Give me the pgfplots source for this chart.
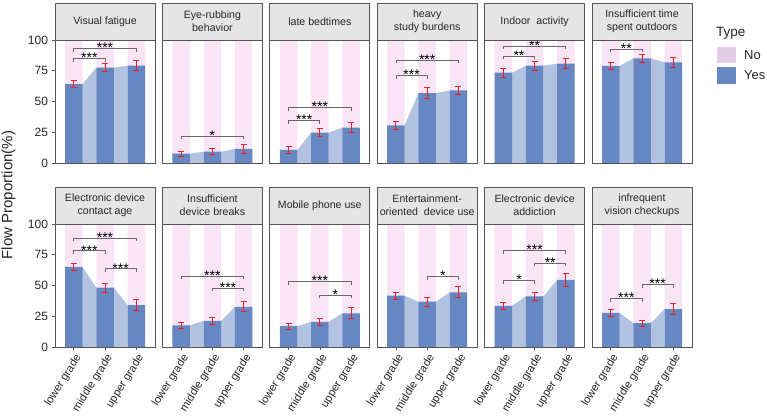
\documentclass[border=0pt]{standalone}
\usepackage{fontspec}
\setmainfont{Liberation Sans}
\usepackage{pgfplots}
\pgfplotsset{compat=1.18}

\definecolor{pinkbg}{RGB}{250,229,247}
\definecolor{flowblue}{RGB}{178,195,226}
\definecolor{barblue}{RGB}{103,135,195}
\definecolor{errred}{RGB}{238,32,40}
\definecolor{stripgray}{RGB}{229,229,229}
\definecolor{framegray}{RGB}{85,85,85}
\definecolor{brgray}{RGB}{105,105,105}
\definecolor{legno}{RGB}{226,206,228}

\pgfplotsset{
  panelstyle/.style={
    scale only axis, width=100pt, height=123pt,
    xmin=-0.6, xmax=2.6, ymin=0, ymax=100,
    clip=false, axis on top,
    axis line style={framegray, line width=0.8pt},
    tick style={framegray, line width=0.6pt},
    major tick length=3.5pt, tick align=outside,
    xtick=\empty, ytick=\empty,
    ticklabel style={font=\fontsize{12}{12}\selectfont, text=black!85},
    /pgf/number format/assume math mode=true,
  },
  leftpanel/.style={ytick={0,25,50,75,100}, ytick pos=left},
  bottompanel/.style={xtick={0,1,2}, xticklabels={lower grade,middle grade,upper grade}, xtick pos=left,
    x tick label style={rotate=58, anchor=north east, inner sep=1.5pt, font=\fontsize{11.2}{11.2}\selectfont}},
  errstyle/.style={forget plot, draw=none, mark=none,
    error bars/.cd, y dir=both, y explicit,
    error bar style={draw=errred, line width=1pt},
    error mark options={draw=errred, rotate=90, mark size=3pt, line width=1pt}},
}

% bracket: i, j, height, mid, stars
\newcommand{\br}[5]{%
  \pgfmathsetmacro\brlow{#3-2.5}%
  \addplot[brgray, line width=0.8pt, forget plot] coordinates {(#1,\brlow) (#1,#3) (#2,#3) (#2,\brlow)};
  \node[anchor=base, yshift=-4.2pt, inner sep=0pt, font=\fontsize{14}{14}\selectfont] at (axis cs:#4,#3) {#5};
}

% panel: x, y, opts, title, v1, v2, v3, error coords, brackets
\newcommand{\panel}[9]{%
\begin{axis}[at={(#1,#2)}, anchor=south west, panelstyle, #3]
  \addplot[ybar, bar width=0.56, bar shift=0pt, fill=pinkbg, draw=none] coordinates {(0,100) (1,100) (2,100)};
  \addplot[fill=flowblue, draw=none] coordinates {(0.28,#5) (0.72,#6)} \closedcycle;
  \addplot[fill=flowblue, draw=none] coordinates {(1.28,#6) (1.72,#7)} \closedcycle;
  \addplot[ybar, bar width=0.56, bar shift=0pt, fill=barblue, draw=none] coordinates {(0,#5) (1,#6) (2,#7)};
  \addplot[errstyle] coordinates {#8};
  #9
  \draw[fill=stripgray, draw=framegray, line width=0.8pt] (rel axis cs:0,1) rectangle ([yshift=37pt]rel axis cs:1,1);
  \node[align=center, font=\fontsize{10.6}{12.7}\selectfont, text=black!85] at ([yshift=18.5pt]rel axis cs:0.5,1) {#4};
\end{axis}}

\begin{document}
\begin{tikzpicture}
\useasboundingbox (0,0) rectangle (767pt,419pt);

% Row 1
\panel{55pt}{256pt}{leftpanel}{Visual fatigue}{64.2}{77.5}{79.1}
  {(0,64.2) +- (0,3) (1,77.5) +- (0,3.3) (2,79.1) +- (0,4)}
  {\br{0}{1}{85}{0.5}{***}\br{0}{2}{93}{1}{***}}
\panel{162.4pt}{256pt}{}{Eye-rubbing\\behavior}{7.6}{9.2}{11.4}
  {(0,7.6) +- (0,2) (1,9.2) +- (0,2.3) (2,11.4) +- (0,3.3)}
  {\br{0}{2}{22}{1}{*}}
\panel{269.8pt}{256pt}{}{late bedtimes}{10.6}{24.6}{28.7}
  {(0,10.6) +- (0,2.5) (1,24.6) +- (0,3.3) (2,28.7) +- (0,4.2)}
  {\br{0}{1}{34.4}{0.5}{***}\br{0}{2}{45}{1}{***}}
\panel{377.2pt}{256pt}{}{heavy\\study burdens}{30.6}{56.9}{59}
  {(0,30.6) +- (0,3.4) (1,56.9) +- (0,4.6) (2,59) +- (0,3.4)}
  {\br{0}{1}{71}{0.5}{***}\br{0}{2}{83.5}{1}{***}}
\panel{484.6pt}{256pt}{}{Indoor\ \ activity}{73.4}{79.1}{80.7}
  {(0,73.4) +- (0,3.5) (1,79.1) +- (0,3.5) (2,80.7) +- (0,4)}
  {\br{0}{1}{87}{0.5}{**}\br{0}{2}{95}{1}{**}}
\panel{592pt}{256pt}{}{Insufficient time\\spent outdoors}{78.9}{85.1}{81.9}
  {(0,78.9) +- (0,3) (1,85.1) +- (0,3) (2,81.9) +- (0,4)}
  {\br{0}{1}{92.4}{0.5}{**}}

% Row 2
\panel{55pt}{72pt}{leftpanel,bottompanel}{Electronic device\\contact age}{65.1}{48.2}{34.1}
  {(0,65.1) +- (0,3.1) (1,48.2) +- (0,3.7) (2,34.1) +- (0,4.5)}
  {\br{0}{1}{78.2}{0.5}{***}\br{0}{2}{88.5}{1}{***}\br{1}{2}{63.5}{1.5}{***}}
\panel{162.4pt}{72pt}{bottompanel}{Insufficient\\device breaks}{17.5}{21.3}{32.7}
  {(0,17.5) +- (0,2.5) (1,21.3) +- (0,3) (2,32.7) +- (0,4)}
  {\br{0}{2}{57.8}{1}{***}\br{1}{2}{47.7}{1.5}{***}}
\panel{269.8pt}{72pt}{bottompanel}{Mobile phone use}{16.9}{20.5}{27.3}
  {(0,16.9) +- (0,2.5) (1,20.5) +- (0,3) (2,27.3) +- (0,4.5)}
  {\br{0}{2}{53.1}{1}{***}\br{1}{2}{42}{1.5}{*}}
\panel{377.2pt}{72pt}{bottompanel}{Entertainment-\\oriented\ \ device use}{41.7}{36.8}{44.4}
  {(0,41.7) +- (0,3) (1,36.8) +- (0,3.5) (2,44.4) +- (0,4.5)}
  {\br{1}{2}{57.2}{1.5}{*}}
\panel{484.6pt}{72pt}{bottompanel}{Electronic device\\addiction}{33.5}{41.2}{54.5}
  {(0,33.5) +- (0,3) (1,41.2) +- (0,3.5) (2,54.5) +- (0,5)}
  {\br{0}{1}{54}{0.5}{*}\br{1}{2}{68.1}{1.5}{**}\br{0}{2}{78.4}{1}{***}}
\panel{592pt}{72pt}{bottompanel}{infrequent\\vision checkups}{27.8}{19.4}{30.8}
  {(0,27.8) +- (0,3) (1,19.4) +- (0,2.5) (2,30.8) +- (0,4.5)}
  {\br{0}{1}{39.2}{0.5}{***}\br{1}{2}{50.7}{1.5}{***}}

% y-axis title
\node[rotate=90, font=\fontsize{15}{15}\selectfont, text=black!85] at (8.5pt,224pt) {Flow Proportion(\%)};

% legend
\node[anchor=west, inner sep=0pt, font=\fontsize{13.5}{13.5}\selectfont, text=black!85] at (716pt,386pt) {Type};
\fill[legno] (717pt,356pt) rectangle (736pt,372pt);
\fill[barblue] (717pt,335pt) rectangle (736pt,352pt);
\node[anchor=west, inner sep=0pt, font=\fontsize{13}{13}\selectfont, text=black!85] at (744pt,364pt) {No};
\node[anchor=west, inner sep=0pt, font=\fontsize{13}{13}\selectfont, text=black!85] at (744pt,344pt) {Yes};
\end{tikzpicture}
\end{document}
